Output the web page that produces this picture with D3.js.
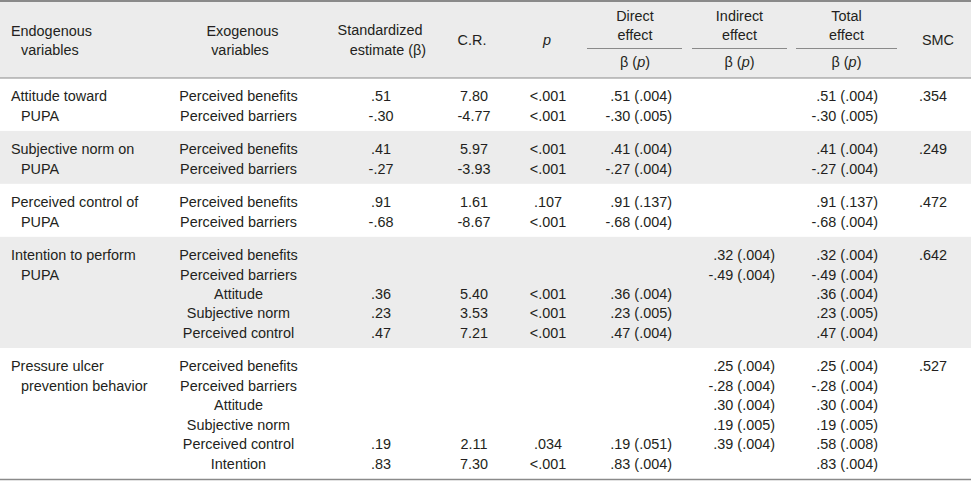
<!DOCTYPE html>
<html><head><meta charset="utf-8">
<script src="https://cdn.jsdelivr.net/npm/d3@7"></script>
<style>
html,body{margin:0;padding:0;background:#fff;}
svg{display:block;}
text{font-family:"Liberation Sans", Arial, sans-serif; font-size:15.5px; fill:#231f20;}
</style></head><body>
<svg id="chart" width="971" height="481"></svg>
<script>
// ---------- DATA ----------
const endogenousLabels = [
  ["Attitude toward", "PUPA"],
  ["Subjective norm on", "PUPA"],
  ["Perceived control of", "PUPA"],
  ["Intention to perform", "PUPA"],
  ["Pressure ulcer", "prevention behavior"]
];
const exogenousVars = [
  ["Perceived benefits", "Perceived barriers"],
  ["Perceived benefits", "Perceived barriers"],
  ["Perceived benefits", "Perceived barriers"],
  ["Perceived benefits", "Perceived barriers", "Attitude", "Subjective norm", "Perceived control"],
  ["Perceived benefits", "Perceived barriers", "Attitude", "Subjective norm", "Perceived control", "Intention"]
];
const stdEstimate = [
  [".51", "-.30"],
  [".41", "-.27"],
  [".91", "-.68"],
  ["", "", ".36", ".23", ".47"],
  ["", "", "", "", ".19", ".83"]
];
const criticalRatio = [
  ["7.80", "-4.77"],
  ["5.97", "-3.93"],
  ["1.61", "-8.67"],
  ["", "", "5.40", "3.53", "7.21"],
  ["", "", "", "", "2.11", "7.30"]
];
const pValues = [
  ["<.001", "<.001"],
  ["<.001", "<.001"],
  [".107", "<.001"],
  ["", "", "<.001", "<.001", "<.001"],
  ["", "", "", "", ".034", "<.001"]
];
const directEffect = [
  [".51 (.004)", "-.30 (.005)"],
  [".41 (.004)", "-.27 (.004)"],
  [".91 (.137)", "-.68 (.004)"],
  ["", "", ".36 (.004)", ".23 (.005)", ".47 (.004)"],
  ["", "", "", "", ".19 (.051)", ".83 (.004)"]
];
const indirectEffect = [
  ["", ""],
  ["", ""],
  ["", ""],
  [".32 (.004)", "-.49 (.004)", "", "", ""],
  [".25 (.004)", "-.28 (.004)", ".30 (.004)", ".19 (.005)", ".39 (.004)", ""]
];
const totalEffect = [
  [".51 (.004)", "-.30 (.005)"],
  [".41 (.004)", "-.27 (.004)"],
  [".91 (.137)", "-.68 (.004)"],
  [".32 (.004)", "-.49 (.004)", ".36 (.004)", ".23 (.005)", ".47 (.004)"],
  [".25 (.004)", "-.28 (.004)", ".30 (.004)", ".19 (.005)", ".58 (.008)", ".83 (.004)"]
];
const smc = [".354", ".249", ".472", ".642", ".527"];

// ---------- LAYOUT ----------
const svg = d3.select("#chart");
const W = 971;
const bodyTop = 78, bodyBottom = 479;
const lineColor = "#8a8a8a";
const bandColor = "#ececec";
const sx = 0.93; // horizontal condensing of glyphs

const padUnits = 0.72;
let cursor = 0;
const groupStart = [], groupEnd = [];
exogenousVars.forEach(g => { groupStart.push(cursor); cursor += g.length + padUnits; groupEnd.push(cursor); });
const y = d3.scaleLinear().domain([0, cursor]).range([bodyTop, bodyBottom]);
const baseline = (g, i) => y(groupStart[g] + padUnits / 2 + i + 0.5) + 6.5;

// header background
svg.append("rect").attr("x", 0).attr("y", 0).attr("width", W).attr("height", bodyTop).attr("fill", bandColor);

// body background bands
svg.selectAll("rect.band")
  .data(exogenousVars.map((d, i) => i))
  .join("rect")
  .attr("class", "band")
  .attr("x", 0).attr("width", W)
  .attr("y", d => y(groupStart[d]))
  .attr("height", d => y(groupEnd[d]) - y(groupStart[d]))
  .attr("fill", d => d % 2 === 1 ? bandColor : "#fff");

// column positions
const colKeys = ["exo", "std", "cr", "p", "direct", "indirect", "total", "smc"];
const colX = d3.scaleOrdinal().domain(colKeys).range([238.5, 381, 474, 548, 672, 775, 878, 933]);
const colAnchor = d3.scaleOrdinal().domain(colKeys)
  .range(["middle", "middle", "middle", "middle", "end", "end", "end", "middle"]);
const colData = { exo: exogenousVars, std: stdEstimate, cr: criticalRatio, p: pValues,
  direct: directEffect, indirect: indirectEffect, total: totalEffect };

const body = svg.append("g").attr("transform", `scale(${sx},1)`);
endogenousLabels.forEach((lines, g) => {
  body.selectAll(null).data(lines).join("text")
    .attr("x", (d, i) => (i === 0 ? 11 : 21) / sx)
    .attr("y", (d, i) => baseline(g, i))
    .text(d => d);
});
Object.keys(colData).forEach(key => {
  colData[key].forEach((vals, g) => {
    body.selectAll(null).data(vals.map((v, i) => ({ v, i })).filter(d => d.v !== "")).join("text")
      .attr("x", colX(key) / sx)
      .attr("text-anchor", colAnchor(key))
      .attr("y", d => baseline(g, d.i))
      .text(d => d.v);
  });
});
body.selectAll(null).data(smc).join("text")
  .attr("x", colX("smc") / sx).attr("text-anchor", "middle")
  .attr("y", (d, g) => baseline(g, 0))
  .text(d => d);

// ---------- HEADER ----------
const head = svg.append("g").attr("transform", `scale(${sx},1)`);
const headerCells = [
  { lines: ["Endogenous", "variables"], xs: [11, 21], anchor: "start", ys: [36.5, 55] },
  { lines: ["Exogenous", "variables"], xs: [242.5, 240], anchor: "middle", ys: [36.5, 55] },
  { lines: ["Standardized", "estimate (β)"], xs: [380, 388], anchor: "middle", ys: [35, 55] },
  { lines: ["C.R."], xs: [472], anchor: "middle", ys: [45] },
  { lines: ["SMC"], xs: [938], anchor: "middle", ys: [45] }
];
headerCells.forEach(c => {
  c.lines.forEach((t, i) => {
    head.append("text").attr("x", c.xs[i] / sx).attr("y", c.ys[i]).attr("text-anchor", c.anchor).text(t);
  });
});
head.append("text").attr("x", 547 / sx).attr("y", 45).attr("text-anchor", "middle")
  .style("font-style", "italic").text("p");

const effectHeads = [
  { name: "Direct", cx: 635, x0: 587, x1: 682 },
  { name: "Indirect", cx: 739.5, x0: 692, x1: 787 },
  { name: "Total", cx: 846.5, x0: 796, x1: 897 }
];
effectHeads.forEach(e => {
  head.append("text").attr("x", e.cx / sx).attr("y", 21.5).attr("text-anchor", "middle").text(e.name);
  head.append("text").attr("x", e.cx / sx).attr("y", 40).attr("text-anchor", "middle").text("effect");
  const t = head.append("text").attr("x", e.cx / sx).attr("y", 67).attr("text-anchor", "middle");
  t.append("tspan").text("β (");
  t.append("tspan").style("font-style", "italic").text("p");
  t.append("tspan").text(")");
  svg.append("line").attr("x1", e.x0).attr("x2", e.x1).attr("y1", 48.5).attr("y2", 48.5)
    .attr("stroke", lineColor).attr("stroke-width", 1);
});

// rules
svg.append("line").attr("x1", 0).attr("x2", W).attr("y1", 1).attr("y2", 1)
  .attr("stroke", lineColor).attr("stroke-width", 2);
svg.append("line").attr("x1", 0).attr("x2", W).attr("y1", bodyTop).attr("y2", bodyTop)
  .attr("stroke", lineColor).attr("stroke-width", 1.2);
svg.append("line").attr("x1", 0).attr("x2", W).attr("y1", bodyBottom + 0.5).attr("y2", bodyBottom + 0.5)
  .attr("stroke", lineColor).attr("stroke-width", 1.5);
</script>
</body></html>
